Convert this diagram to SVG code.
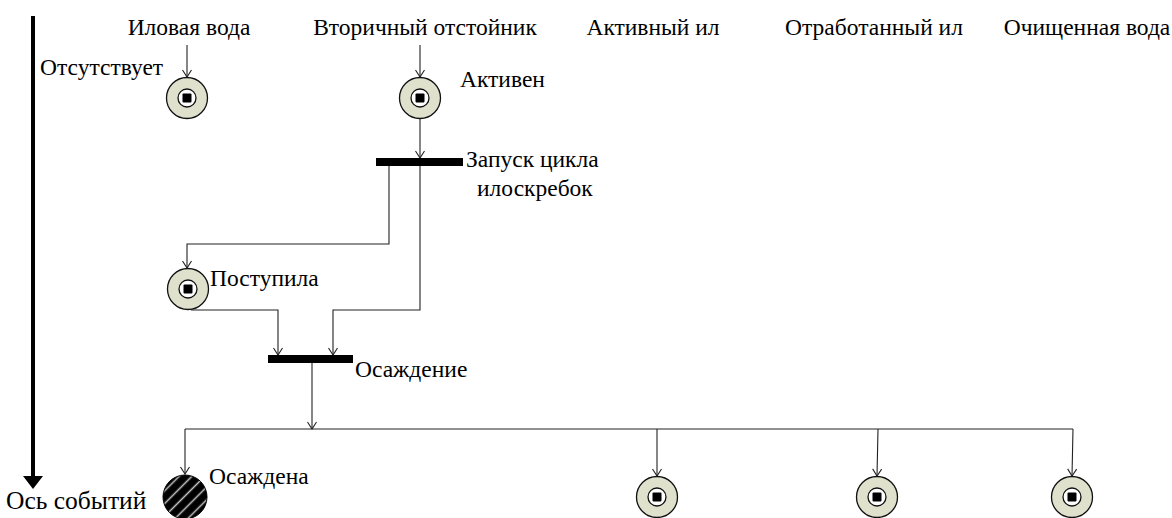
<svg xmlns="http://www.w3.org/2000/svg" width="1172" height="518" viewBox="0 0 1172 518">
<style>
text{font-family:'Liberation Serif','Times New Roman',serif;font-size:23.5px;fill:#000}
.c{fill:none;stroke:#222;stroke-width:1.1}
.bar{fill:#000}
</style>
<defs>
<marker id="ah" viewBox="-9 -6 10 12" markerWidth="10" markerHeight="12" refX="0" refY="0" orient="auto" markerUnits="userSpaceOnUse">
<path d="M-7,-4.5 L0,0 L-7,4.5" fill="none" stroke="#222" stroke-width="1.1"/>
</marker>
<linearGradient id="sg" x1="0" y1="0" x2="1" y2="0">
<stop offset="0" stop-color="#000"/>
<stop offset="0.35" stop-color="#000"/>
<stop offset="0.5" stop-color="#c8c8c8"/>
<stop offset="0.65" stop-color="#000"/>
<stop offset="1" stop-color="#000"/>
</linearGradient>
<pattern id="hatch" width="9" height="9" patternUnits="userSpaceOnUse" patternTransform="rotate(45)">
<rect width="9" height="9" fill="url(#sg)"/>
</pattern>
<g id="state">
<circle r="20.5" fill="#dfe1cd" stroke="#111" stroke-width="1.3"/>
<circle r="9" fill="#fff" stroke="#111" stroke-width="1.3"/>
<rect x="-4.5" y="-4.5" width="9" height="9" rx="1" fill="#000"/>
</g>
</defs>
<rect width="1172" height="518" fill="#fff"/>

<g id="axis">
<line x1="33" y1="16" x2="33" y2="478" stroke="#000" stroke-width="4"/>
<path d="M23,476 L43,476 L33,489 Z" fill="#000"/>
<text x="6" y="509" style="font-size:25.5px">Ось событий</text>
<text x="40" y="75">Отсутствует</text>
</g>

<g id="headers">
<text x="189" y="35" text-anchor="middle">Иловая вода</text>
<text x="425" y="35" text-anchor="middle">Вторичный отстойник</text>
<text x="653" y="35" text-anchor="middle">Активный ил</text>
<text x="874" y="35" text-anchor="middle">Отработанный ил</text>
<text x="1087" y="35" text-anchor="middle">Очищенная вода</text>
</g>

<g id="connectors">
<path class="c" d="M187,45 V77" marker-end="url(#ah)"/>
<path class="c" d="M420,45 V77" marker-end="url(#ah)"/>
<path class="c" d="M420,119 V158" marker-end="url(#ah)"/>
<path class="c" d="M389,166 V244 H187 V268" marker-end="url(#ah)"/>
<path class="c" d="M420,166 V310 H333 V355" marker-end="url(#ah)"/>
<path class="c" d="M191,310 H278 V355" marker-end="url(#ah)"/>
<path class="c" d="M312,363 V429" marker-end="url(#ah)"/>
<path class="c" d="M185,429 H1073"/>
<path class="c" d="M185,429 V474" marker-end="url(#ah)"/>
<path class="c" d="M657,429 V476" marker-end="url(#ah)"/>
<path class="c" d="M878,429 L877,476" marker-end="url(#ah)"/>
<path class="c" d="M1073,429 L1072,476" marker-end="url(#ah)"/>
</g>

<g id="n-ilovaya"><use href="#state" x="187" y="98"/></g>
<g id="n-aktiven"><use href="#state" x="420" y="98"/>
<text x="460" y="87">Активен</text></g>
<g id="bar-zapusk"><rect class="bar" x="376" y="158" width="87" height="8"/>
<text x="466" y="167">Запуск цикла</text>
<text x="477" y="196">илоскребок</text></g>
<g id="n-postupila"><use href="#state" x="188" y="289"/>
<text x="210" y="286">Поступила</text></g>
<g id="bar-osazhdenie"><rect class="bar" x="268" y="355" width="85" height="8"/>
<text x="355" y="377">Осаждение</text></g>
<g id="n-osazhdena"><circle cx="185" cy="497" r="22" fill="url(#hatch)" stroke="#000" stroke-width="1"/>
<text x="209" y="484">Осаждена</text></g>
<g id="n-aktivny-il"><use href="#state" x="657" y="497"/></g>
<g id="n-otrabotanny-il"><use href="#state" x="877" y="497"/></g>
<g id="n-ochishchennaya"><use href="#state" x="1072" y="497"/></g>
</svg>
